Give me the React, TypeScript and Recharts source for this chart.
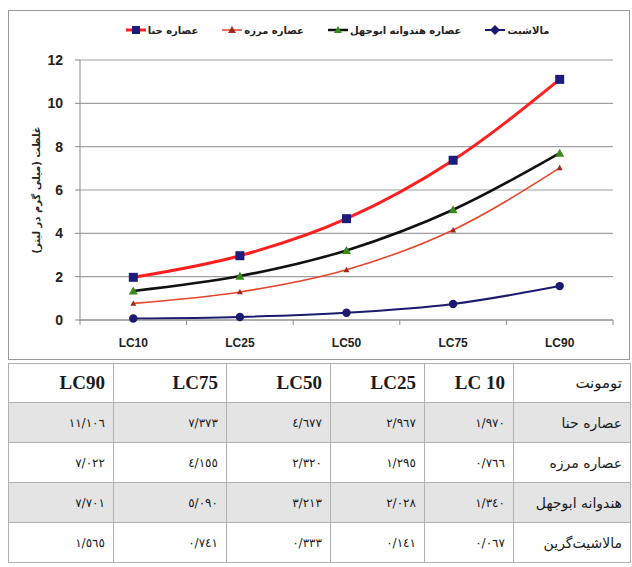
import React from 'react';
import { LineChart, Line, XAxis, YAxis, CartesianGrid } from 'recharts';

// categories and series values (from the table under the chart)
const levels = ['LC10', 'LC25', 'LC50', 'LC75', 'LC90'];
const henna = [1.97, 2.967, 4.677, 7.373, 11.106];
const savory = [0.766, 1.295, 2.32, 4.155, 7.022];
const colocynth = [1.34, 2.028, 3.213, 5.09, 7.701];
const malachite = [0.067, 0.141, 0.333, 0.741, 1.565];
const yTicks = [0, 2, 4, 6, 8, 10, 12];

// table texts, written as in the picture
const tableHead = ['LC90', 'LC75', 'LC50', 'LC25', 'LC 10', 'تومونت'];
const tableRows = [
  ['١١/١٠٦', '٧/٣٧٣', '٤/٦٧٧', '٢/٩٦٧', '١/٩٧٠', 'عصاره حنا'],
  ['٧/٠٢٢', '٤/١٥٥', '٢/٣٢٠', '١/٢٩٥', '٠/٧٦٦', 'عصاره مرزه'],
  ['٧/٧٠١', '٥/٠٩٠', '٣/٢١٣', '٢/٠٢٨', '١/٣٤٠', 'هندوانه ابوجهل'],
  ['١/٥٦٥', '٠/٧٤١', '٠/٣٣٣', '٠/١٤١', '٠/٠٦٧', 'مالاشیت‌گرین'],
];

const data = levels.map((lc, i) => ({
  lc,
  henna: henna[i],
  savory: savory[i],
  colocynth: colocynth[i],
  malachite: malachite[i],
}));

const CHART_W = 622;
const CHART_H = 350;
const MARGIN = { top: 50, right: 17, bottom: 10, left: 0 };
const Y_W = 72;
const BAND = (CHART_W - MARGIN.left - MARGIN.right - Y_W) / levels.length;

const SquareDot = (props: any) => {
  const { cx, cy } = props;
  if (cx == null || cy == null) return null;
  return <rect x={cx - 4.5} y={cy - 4.5} width={9} height={9} fill="#1c1c7c" />;
};

const TriDot = (color: string, s: number) => (props: any) => {
  const { cx, cy } = props;
  if (cx == null || cy == null) return null;
  return (
    <polygon
      points={`${cx},${cy - s} ${cx + s},${cy + s * 0.8} ${cx - s},${cy + s * 0.8}`}
      fill={color}
    />
  );
};

const RoundDot = (props: any) => {
  const { cx, cy } = props;
  if (cx == null || cy == null) return null;
  return <circle cx={cx} cy={cy} r={4.2} fill="#1a1a6e" />;
};

const XTick = (props: any) => {
  const { x, y, payload, index } = props;
  return (
    <g>
      <line x1={x - BAND / 2} y1={y} x2={x - BAND / 2} y2={y + 5} stroke="#8a8a8a" />
      {index === levels.length - 1 && (
        <line x1={x + BAND / 2} y1={y} x2={x + BAND / 2} y2={y + 5} stroke="#8a8a8a" />
      )}
      <text
        x={x}
        y={y + 27}
        textAnchor="middle"
        fill="#222"
        fontSize={12}
        fontWeight="bold"
        fontFamily="Liberation Sans Narrow, Liberation Sans, sans-serif"
      >
        {payload.value}
      </text>
    </g>
  );
};

const legendItems = [
  { name: 'عصاره حنا', line: '#ff1f1f', w: 3, mark: 'square', mc: '#1c1c7c' },
  { name: 'عصاره مرزه', line: '#e8462a', w: 1.5, mark: 'tri', mc: '#a0281e' },
  { name: 'عصاره هندوانه ابوجهل', line: '#111', w: 2.5, mark: 'tri', mc: '#3a8a1a' },
  { name: 'مالاشیت', line: '#1a1a6e', w: 2, mark: 'diamond', mc: '#1a1a6e' },
];

const LegendIcon = ({ it }: { it: (typeof legendItems)[number] }) => (
  <svg width={20} height={12} style={{ marginRight: 2 }}>
    <line x1={0} y1={6} x2={20} y2={6} stroke={it.line} strokeWidth={it.w} />
    {it.mark === 'square' && <rect x={6} y={2} width={8} height={8} fill={it.mc} />}
    {it.mark === 'tri' && <polygon points="10,2 14,9 6,9" fill={it.mc} />}
    {it.mark === 'diamond' && <polygon points="10,1 15,6 10,11 5,6" fill={it.mc} />}
  </svg>
);

export default function App() {
  const cell: React.CSSProperties = {
    border: '1px solid #b0b0b0',
    textAlign: 'right',
    padding: '0 8px',
    whiteSpace: 'nowrap',
  };
  const colW = [105, 113, 104, 94, 89, 117];

  return (
    <div style={{ position: 'absolute', left: 0, top: 0, width: 632, height: 567, background: '#fff' }}>
      <div
        style={{
          position: 'absolute',
          left: 8,
          top: 10,
          width: CHART_W,
          height: CHART_H,
          border: '1px solid #9a9a9a',
          boxSizing: 'border-box',
        }}
      >
        <div
          style={{
            position: 'absolute',
            left: 62,
            width: 533,
            top: 13,
            display: 'flex',
            justifyContent: 'center',
            alignItems: 'center',
            gap: 24,
            fontFamily: 'DejaVu Sans, sans-serif',
            fontSize: 10,
            fontWeight: 'bold',
            color: '#222',
          }}
        >
          {legendItems.map((it) => (
            <div key={it.name} style={{ display: 'flex', alignItems: 'center' }}>
              <LegendIcon it={it} />
              <span style={{ direction: 'rtl' }}>{it.name}</span>
            </div>
          ))}
        </div>
        <div style={{ position: 'absolute', left: -1, top: -1 }}>
          <LineChart width={CHART_W} height={CHART_H} data={data} margin={MARGIN}>
            <CartesianGrid vertical={false} stroke="#a0a0a0" strokeWidth={1.2} />
            <XAxis
              dataKey="lc"
              height={30}
              padding={{ left: BAND / 2, right: BAND / 2 }}
              tick={<XTick />}
              tickLine={false}
              tickSize={0}
              tickMargin={0}
              stroke="#8a8a8a"
              interval={0}
            />
            <YAxis
              width={Y_W}
              domain={[0, 12]}
              ticks={yTicks}
              tickSize={5}
              tickMargin={12}
              stroke="#8a8a8a"
              tick={{ fill: '#222', fontSize: 14, fontWeight: 'bold', fontFamily: 'Liberation Sans, sans-serif' }}
              label={{
                value: 'غلظت (میلی گرم در لیتر)',
                angle: -90,
                position: 'insideLeft',
                offset: 28,
                style: {
                  textAnchor: 'middle',
                  fontSize: 10,
                  fontWeight: 'bold',
                  fill: '#222',
                  fontFamily: 'DejaVu Sans, sans-serif',
                },
              }}
            />
            <Line
              dataKey="malachite"
              type="monotone"
              stroke="#1a1a6e"
              strokeWidth={2}
              dot={<RoundDot />}
              isAnimationActive={false}
            />
            <Line
              dataKey="savory"
              type="monotone"
              stroke="#e8462a"
              strokeWidth={1.6}
              dot={TriDot('#a0281e', 3)}
              isAnimationActive={false}
            />
            <Line
              dataKey="colocynth"
              type="monotone"
              stroke="#111"
              strokeWidth={2.6}
              dot={TriDot('#3a8a1a', 4.5)}
              isAnimationActive={false}
            />
            <Line
              dataKey="henna"
              type="monotone"
              stroke="#ff1f1f"
              strokeWidth={3}
              dot={<SquareDot />}
              isAnimationActive={false}
            />
          </LineChart>
        </div>
      </div>

      <table
        style={{
          position: 'absolute',
          left: 8,
          top: 363,
          width: 622,
          borderCollapse: 'collapse',
          tableLayout: 'fixed',
          color: '#1a1a1a',
        }}
      >
        <colgroup>
          {colW.map((w, i) => (
            <col key={i} style={{ width: w }} />
          ))}
        </colgroup>
        <tbody>
          <tr style={{ height: 39 }}>
            {tableHead.map((h, i) => (
              <td
                key={i}
                style={{
                  ...cell,
                  fontFamily: i === 5 ? 'DejaVu Sans, serif' : 'Liberation Serif, serif',
                  fontWeight: i === 5 ? 'normal' : 'bold',
                  fontSize: i === 5 ? 15 : 19,
                  direction: i === 5 ? 'rtl' : 'ltr',
                }}
              >
                {h}
              </td>
            ))}
          </tr>
          {tableRows.map((row, r) => (
            <tr key={r} style={{ height: 40, background: r % 2 === 0 ? '#e4e4e4' : '#fff' }}>
              {row.map((v, i) => (
                <td
                  key={i}
                  style={{
                    ...cell,
                    direction: 'rtl',
                    fontFamily: 'DejaVu Sans, sans-serif',
                    fontSize: i === 5 ? 14 : 12,
                  }}
                >
                  {v}
                </td>
              ))}
            </tr>
          ))}
        </tbody>
      </table>
    </div>
  );
}
